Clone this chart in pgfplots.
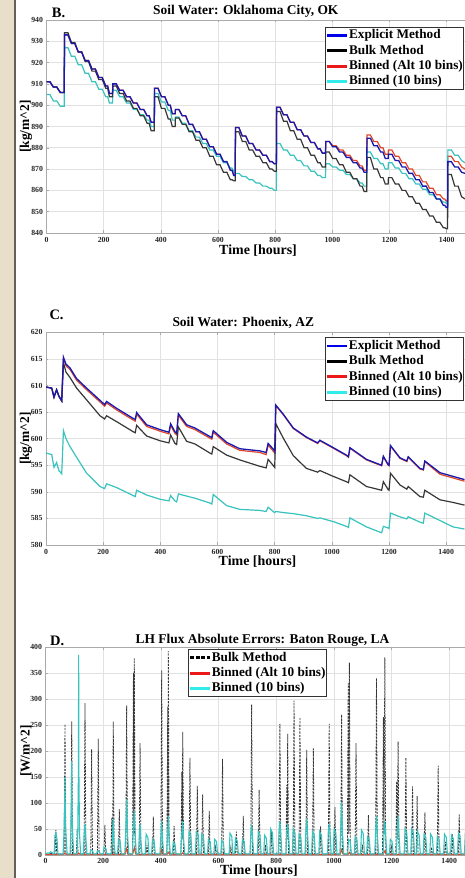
\documentclass[border=0pt]{standalone}
\usepackage{pgfplots}
\pgfplotsset{compat=1.18}
\usepackage{pgfplotstable}
\usepackage{fontspec}
\setmainfont{Liberation Serif}

\definecolor{bgbeige}{RGB}{232,223,203}
\definecolor{stripline}{RGB}{100,95,90}
\definecolor{lnblue}{RGB}{25,25,175}
\definecolor{lnblack}{RGB}{55,55,55}
\definecolor{lnred}{RGB}{225,70,40}
\definecolor{lncyan}{RGB}{55,195,190}
\definecolor{lgblue}{RGB}{0,0,235}
\definecolor{lgred}{RGB}{235,25,25}
\definecolor{lgcyan}{RGB}{50,235,235}
\definecolor{gridgray}{RGB}{225,225,225}
\definecolor{axgray}{RGB}{170,170,170}

% Oklahoma City soil water (daily hold-then-drop steps)
\pgfplotstableread{
t E K R C
0 911 911 911 905
12 911 911 911 905
24 908.5 908.5 908.5 902
36 908.5 908.5 908.5 902
48 906 906 906 899.5
62 906 906 906 899.5
63 933 934 933 927
75 933 934 933 927
87 929 929.5 929 923
99 929 929.5 929 923
111 925 925 925 919
123 925 925 925 919
135 921 920.5 921 915
147 921 920.5 921 915
159 917 916 917 911
171 917 916 917 911
183 913 912 913 907.5
195 913 912 913 907.5
207 909 908 909 904
214 909 908 909 904
220 905.5 904 905.5 901
231 905.5 904 905.5 901
232 910 909 910 907
244 910 909 910 907
256 907 905.5 907 904
268 907 905.5 907 904
280 904 902 904 901
292 904 902 904 901
304 901 898.5 901 898
316 901 898.5 901 898
328 898 895 898 895.5
340 898 895 898 895.5
352 895 891.5 895 893
359 895 891.5 895 893
366 892 888 892 890
377 892 888 892 890
378 908 904 908 905.5
390 908 904 908 905.5
402 904 898.5 904 901.5
414 904 898.5 904 901.5
426 900 893.5 900 897.5
433 900 893.5 900 897.5
440 896 890 896 893
450 896 890 896 893
451 898 894 898 894.5
463 898 894 898 894.5
475 895 891 895 891.5
487 895 891 895 891.5
499 891 887.5 891 888
511 891 887.5 891 888
523 887.5 883.5 887.5 885
535 887.5 883.5 887.5 885
547 884 880 884 882
559 884 880 884 882
571 880.5 876 880.5 879
583 880.5 876 880.5 879
595 877 872 877 876
607 877 872 877 876
619 873.5 868.5 873.5 873
631 873.5 868.5 873.5 873
643 869.5 865 869.5 870.5
649 869.5 865 869.5 870.5
655 867 864.5 867 869
660 867 864.5 867 869
661 889.5 887.5 889.5 868
673 889.5 887.5 889.5 868
685 885.5 883 885.5 866.5
697 885.5 883 885.5 866.5
709 882 879 882 865
721 882 879 882 865
733 879 876 879 863.5
745 879 876 879 863.5
757 876.5 873 876.5 862
769 876.5 873 876.5 862
781 873.5 870 873.5 861
789 873.5 870 873.5 861
797 872.5 869 872.5 860
804 872.5 869 872.5 860
805 899 897 899 882
817 899 897 899 882
829 895.5 892.5 895.5 879
841 895.5 892.5 895.5 879
853 892 888 892 876.5
865 892 888 892 876.5
877 888.5 884 888.5 874
889 888.5 884 888.5 874
901 885.5 880 885.5 871.5
913 885.5 880 885.5 871.5
925 882.5 876.5 882.5 869
937 882.5 876.5 882.5 869
949 879.5 873 879.5 867
957 879.5 873 879.5 867
965 877.5 871 877.5 866
976 877.5 871 877.5 866
977 883 878 883 872.5
989 883 878 883 872.5
1001 880.5 875 881 871
1013 880.5 875 881 871
1025 878 872 879 869.5
1037 878 872 879 869.5
1049 875.5 868.5 876.5 867.5
1061 875.5 868.5 876.5 867.5
1073 873 865.5 874 865.5
1085 873 865.5 874 865.5
1097 870.5 862 871.5 863.5
1104 870.5 862 871.5 863.5
1111 868.5 859.5 869.5 862
1120 868.5 859.5 869.5 862
1121 884.5 875.5 886 878
1133 884.5 875.5 886 878
1145 881 870 883 875
1157 881 870 883 875
1169 878 866 880 872.5
1177 878 866 880 872.5
1185 875 863 877 870
1195 875 863 877 870
1196 877 866 879 873
1208 877 866 879 873
1220 874 863 876 870.5
1232 874 863 876 870.5
1244 871 860 873 868
1256 871 860 873 868
1268 868 857 870 865.5
1280 868 857 870 865.5
1292 865 854 867 863
1304 865 854 867 863
1316 862 851 864 860.5
1328 862 851 864 860.5
1340 859 848 861 858
1352 859 848 861 858
1364 856 845 858 856
1376 856 845 858 856
1388 853 842.5 856 854.5
1393 853 842.5 856 854.5
1398 852 842 855 854
1403 852 842 855 854
1404 873.5 867.5 876 879
1416 873.5 867.5 876 879
1428 871 862 873.5 876.5
1440 871 862 873.5 876.5
1452 868.5 857 871 874
1464 868 856 870 873
}\tabB

% Phoenix soil water
\pgfplotstableread{
t E K R C
0 609.7 609.7 609.7 597.3
20 609.5 609.5 609.5 597.0
28 607.8 607.8 607.8 594.6
37 609.2 609.2 609.2 595.5
45 608.0 608.0 608.0 594.0
55 607.1 607.1 607.1 593.4
61 615.3 614.3 615.1 601.5
70 614.0 612.5 613.7 600.0
84 613.3 611.5 613.0 598.5
107 611.3 609.5 611.0 596.5
142 609.5 607.3 609.2 593.5
189 607.2 604.3 606.9 591.0
205 606.4 603.7 606.1 590.6
212 607.0 604.3 606.7 591.5
247 605.7 603.2 605.4 590.8
305 603.8 601.3 603.5 589.3
312 603.6 601.1 603.3 589.1
317 604.9 602.5 604.6 590.3
352 602.6 600.5 602.3 589.4
399 601.7 599.6 601.4 588.6
430 601.2 599.2 600.9 588.3
436 602.8 600.7 602.5 589.3
451 601.3 599.1 601.0 588.3
457 601.0 598.9 600.7 588.1
463 604.7 602.2 604.4 589.6
492 602.6 599.5 602.3 589.2
521 602.0 599.0 601.7 588.8
573 600.4 597.3 600.1 587.9
580 600.2 597.1 599.9 587.7
585 601.5 598.5 601.2 589.5
632 599.3 596.9 599.0 587.4
678 598.1 596.0 597.8 586.7
748 597.7 594.8 597.4 586.5
770 597.4 594.5 597.0 586.3
777 599.1 596.1 598.8 587.1
797 597.9 594.8 597.5 586.2
800 597.6 594.6 597.3 586.1
804 606.3 602.8 606.2 586.3
830 604.6 600.1 604.5 586.1
865 602.0 596.8 601.9 585.9
911 600.3 594.4 600.2 585.5
950 599.2 593.7 599.1 585.0
958 599.7 594.0 599.6 585.1
1005 598.3 592.9 598.2 584.4
1051 596.9 591.9 596.8 583.5
1058 596.6 591.7 596.5 583.3
1063 598.3 593.2 598.2 585.1
1121 596.1 591.0 596.0 583.4
1174 595.0 590.3 594.9 582.3
1180 596.7 591.9 596.6 583.5
1197 595.1 590.4 595.0 583.2
1200 595.0 590.3 594.9 583.1
1205 598.7 593.5 598.6 586.0
1238 596.4 591.3 596.3 585.3
1262 595.8 590.5 595.7 584.9
1267 596.6 591.0 596.5 585.3
1308 594.4 589.1 594.3 584.3
1320 594.2 589.0 594.1 584.1
1325 595.8 590.3 595.7 586.0
1378 593.6 588.5 593.3 584.6
1424 592.9 588.0 592.6 583.4
1464 592.3 587.5 592.0 583.0
}\tabC

\pgfplotsset{
  panel/.style={
    scale only axis, xmin=0, xmax=1480, xtick={0,200,...,1400},
    grid=major, major grid style={gridgray, line width=0.6bp},
    axis line style={axgray, line width=0.6bp},
    tick style={axgray, line width=0.5bp}, major tick length=2.5bp,
    tick label style={font=\fontsize{7.8}{8}\selectfont\bfseries, text=black!85},
    /pgf/number format/assume math mode=true,
    /pgf/number format/1000 sep={},
    xticklabel style={yshift=-0.5bp},
    xlabel={Time [hours]},
    xlabel style={font=\fontsize{14}{15}\selectfont\bfseries, anchor=center},
    ylabel style={font=\fontsize{13.5}{14}\selectfont\bfseries, anchor=center},
    legend cell align=left,
    legend image code/.code={\draw[##1] (0bp,0bp) -- (20bp,0bp);},
    legend style={draw=black!80, line width=0.8bp, fill=white, anchor=north west,
      font=\fontsize{13.3}{14}\selectfont\bfseries, inner xsep=0.5bp, inner ysep=1bp, row sep=0.8bp,
      nodes={inner sep=0.4bp, text height=10.3bp, text depth=3.5bp}},
  }
}

\begin{document}
\begin{tikzpicture}
\useasboundingbox (0bp,0bp) rectangle (465bp,878bp);
\fill[white] (0bp,0bp) rectangle (465bp,878bp);
\fill[bgbeige] (0bp,0bp) rectangle (14bp,878bp);
\fill[stripline] (14bp,0bp) rectangle (16bp,878bp);
\begin{scope}
\clip (0bp,0bp) rectangle (465bp,878bp);

% ---------------- B ----------------
\begin{axis}[panel, at={(46.5bp,645bp)}, anchor=south west,
  width=423.1bp, height=213bp, ymin=840, ymax=940, ytick distance=10,
  ylabel={[kg/m\textasciicircum 2]},
  xlabel style={at={(axis description cs:0.5,-0.0825)}},
  ylabel style={at={(axis description cs:-0.0485,0.5)}},
  legend style={at={(axis description cs:0.6582,0.9685)}}]
\addplot[lnred, line width=1.2bp, forget plot] table[x=t,y=R] {\tabB};
\addplot[lncyan, line width=1.2bp, forget plot] table[x=t,y=C] {\tabB};
\addplot[lnblack, line width=1.2bp, forget plot] table[x=t,y=K] {\tabB};
\addplot[lnblue, line width=1.3bp, forget plot] table[x=t,y=E] {\tabB};
\addlegendimage{lgblue, line width=2.8bp}\addlegendentry{Explicit Method}
\addlegendimage{black, line width=2.8bp}\addlegendentry{Bulk Method}
\addlegendimage{lgred, line width=2.8bp}\addlegendentry{Binned (Alt 10 bins)}
\addlegendimage{lgcyan, line width=2.8bp}\addlegendentry{Binned (10 bins)}
\end{axis}

% ---------------- C ----------------
\begin{axis}[panel, at={(46bp,333bp)}, anchor=south west,
  width=423.1bp, height=212.7bp, ymin=580, ymax=620, ytick distance=5,
  ylabel={[kg/m\textasciicircum 2]},
  xlabel style={at={(axis description cs:0.5,-0.08)}},
  ylabel style={at={(axis description cs:-0.0473,0.5)}},
  legend style={at={(axis description cs:0.6590,0.9765)}}]
\addplot[lnred, line width=1.2bp, forget plot] table[x=t,y=R] {\tabC};
\addplot[lncyan, line width=1.2bp, forget plot] table[x=t,y=C] {\tabC};
\addplot[lnblack, line width=1.2bp, forget plot] table[x=t,y=K] {\tabC};
\addplot[lnblue, line width=1.3bp, forget plot] table[x=t,y=E] {\tabC};
\addlegendimage{lgblue, line width=2.8bp}\addlegendentry{Explicit Method}
\addlegendimage{black, line width=2.8bp}\addlegendentry{Bulk Method}
\addlegendimage{lgred, line width=2.8bp}\addlegendentry{Binned (Alt 10 bins)}
\addlegendimage{lgcyan, line width=2.8bp}\addlegendentry{Binned (10 bins)}
\end{axis}

% ---------------- D ----------------
\begin{axis}[panel, at={(45.5bp,23bp)}, anchor=south west,
  width=426.7bp, height=208bp, ymin=0, ymax=400, ytick distance=50,
  ylabel={[W/m\textasciicircum 2]},
  xticklabel style={yshift=0.8bp},
  xlabel style={at={(axis description cs:0.5,-0.0755)}},
  ylabel style={at={(axis description cs:-0.046,0.5)}},
  legend style={at={(axis description cs:0.3333,0.990)}}]
\addplot[lnblack, line width=0.8bp, dash pattern=on 2.2bp off 1.2bp, forget plot] coordinates {
(0,2)(16,2)(19,5)(22,2)(33,2)(36,48)(39,2)(64.6,2)(67.6,252)(70.6,2)(88,2)(91,257)(94,2)
(107,2)(110,50)(113,2)(134,2)(137,292)(140,2)(157,2)(160,203)(163,2)(180,2)(183,224)(186,2)
(203,2)(206,58)(209,2)(227,2)(230,72)(232,2)(233,2)(235,257)(238,2)(253,2)(256,88)(259,2)
(278.5,2)(281.5,288)(284.5,2)(302,2)(305,350)(306.5,40)(308,378)(311,2)(325,2)(328,215)(331,2)
(349,2)(352,20)(355,2)(371,2)(374,74)(377,2)(400,2)(403,355)(406,2)
(421,2)(424,285)(425,40)(426,392)(429,2)(443,2)(446,56)(449,2)
(470,2)(473,160)(474.5,30)(476,237)(479,2)(498,2)(501,187)(504,2)(523.5,2)(526.5,133)(529.5,2)
(542,2)(545,116)(548,2)(565,2)(568,85)(571,2)(587,2)(590,15)(593,2)(611,2)(614,185)(617,2)
(640,2)(643,15)(646,2)(659,2)(662,45)(665,2)(683,2)(686,75)(689,2)(712,2)(715,289)(718,2)
(738,2)(741,125)(744,2)(760,2)(763,20)(766,2)(781,2)(784,48)(787,2)(810,2)(813,252)(816,2)
(834,2)(837,135)(838.5,30)(840,233)(843,2)(859,2)(862,297)(865,2)(879.5,2)(882.5,265)(885.5,2)
(903,2)(906,202)(909,2)(926,2)(929,205)(932,2)(951,2)(954,55)(957,2)(981,2)(984,252)(987,2)
(1001,2)(1004,92)(1007,2)(1024,2)(1027,270)(1030,2)(1047,2)(1050,330)(1052,40)(1054,370)(1057,2)
(1074,2)(1077,215)(1080,2)(1096,2)(1099,20)(1102,2)(1117,2)(1120,77)(1123,2)(1145,2)(1148,340)(1151,2)
(1169,2)(1172,265)(1174,40)(1177,380)(1180,2)(1196,2)(1199,20)(1202,2)
(1215,2)(1218,142)(1220,30)(1223,218)(1226,2)(1247,2)(1250,187)(1253,2)(1270,2)(1273,132)(1276,2)
(1286,2)(1289,113)(1292,2)(1313,2)(1316,82)(1319,2)(1336,2)(1339,15)(1342,2)(1359,2)(1362,172)(1365,2)
(1384,2)(1387,25)(1390,2)(1408,2)(1411,40)(1414,2)(1432,2)(1435,78)(1438,2)(1456,2)(1459,15)(1462,2)(1464,2)
};
\addplot[lnred, line width=1.1bp, forget plot] coordinates {
(0,1)(60,1)(67,3)(74,1)(110,1)(115,4)(120,1)(275,1)(281,12)(287,1)(302,1)(308,14)(314,1)
(398,1)(403,10)(408,1)(421,1)(426,5)(431,1)(470,1)(476,4)(482,1)(1021,1)(1027,10)(1033,1)
(1049,1)(1054,5)(1059,1)(1171,1)(1177,8)(1183,1)(1464,1)
};
\addplot[lncyan, line width=1.1bp, forget plot] coordinates {
(0,3)(10,4)(14,3)(17,6)(23,5)(26,2)
(30,2)(33,38)(36,42)(40,30)(43,2)
(61,2)(64,40)(66.5,100)(67.6,150)(69,60)(72,30)(75,2)
(85,2)(88,45)(90,120)(91,180)(92,80)(95,30)(98,2)
(109,2)(112,50)(114,150)(115,385)(116,150)(118,40)(122,2)
(131,2)(134,40)(137,60)(140,30)(144,2)
(154,2)(157,10)(163,8)(167,2)
(177,2)(180,8)(186,7)(190,2)
(200,2)(203,15)(209,13)(213,2)
(229,2)(232,25)(235,70)(238,20)(242,2)
(250,2)(253,30)(259,25)(263,2)
(275,2)(278,40)(281.5,108)(285,35)(289,2)
(301,2)(304,40)(308,85)(312,30)(315,2)
(322,2)(325,30)(328,60)(331,25)(335,2)
(346,2)(349,40)(355,34)(359,2)
(368,2)(371,30)(377,26)(381,2)
(397,2)(400,35)(403,65)(406,30)(410,2)
(420,2)(423,35)(426,75)(429,30)(433,2)
(440,2)(443,25)(449,21)(453,2)
(469,2)(472,35)(476,65)(479,30)(483,2)
(495,2)(498,45)(504,38)(508,2)
(520,2)(523,45)(530,38)(533,2)
(539,2)(542,40)(548,34)(552,2)
(562,2)(565,30)(571,26)(575,2)
(584,2)(587,30)(593,26)(597,2)
(608,2)(611,28)(617,24)(621,2)
(637,2)(640,42)(646,36)(650,2)
(656,2)(659,32)(665,27)(669,2)
(680,2)(683,30)(689,26)(693,2)
(709,2)(712,40)(715,58)(718,35)(722,2)
(735,2)(738,45)(744,38)(748,2)
(757,2)(760,38)(766,32)(770,2)
(778,2)(781,50)(787,43)(791,2)
(807,2)(810,45)(813,65)(816,40)(820,2)
(834,2)(837,45)(840,60)(843,40)(847,2)
(856,2)(859,50)(865,43)(869,2)
(876.5,2)(879.5,40)(885.5,34)(889.5,2)
(900,2)(903,45)(906,70)(909,40)(913,2)
(923,2)(926,45)(932,38)(936,2)
(948,2)(951,45)(957,38)(961,2)
(978,2)(981,45)(984,60)(987,40)(991,2)
(998,2)(1001,50)(1007,43)(1011,2)
(1021,2)(1024,50)(1027,102)(1030,45)(1034,2)
(1048,2)(1051,30)(1057,26)(1061,2)
(1071,2)(1074,35)(1080,30)(1084,2)
(1093,2)(1096,48)(1102,41)(1106,2)
(1114,2)(1117,35)(1123,30)(1127,2)
(1142,2)(1145,45)(1148,75)(1151,40)(1155,2)
(1171,2)(1174,40)(1177,65)(1180,35)(1184,2)
(1193,2)(1196,30)(1202,26)(1206,2)
(1217,2)(1220,45)(1223,75)(1226,40)(1230,2)
(1244,2)(1247,50)(1253,43)(1257,2)
(1267,2)(1270,50)(1276,43)(1280,2)
(1287,2)(1290,45)(1296,38)(1300,2)
(1310,2)(1313,40)(1319,34)(1323,2)
(1333,2)(1336,40)(1342,34)(1346,2)
(1356,2)(1359,35)(1365,30)(1369,2)
(1381,2)(1384,40)(1390,34)(1394,2)
(1405,2)(1408,38)(1414,32)(1418,2)
(1429,2)(1432,42)(1438,36)(1442,2)
(1453,2)(1456,40)(1462,34)(1464,20)
};
\addlegendimage{black, line width=2.8bp, dash pattern=on 4bp off 1.6bp}\addlegendentry{Bulk Method}
\addlegendimage{lgred, line width=2.8bp}\addlegendentry{Binned (Alt 10 bins)}
\addlegendimage{lgcyan, line width=2.8bp}\addlegendentry{Binned (10 bins)}
\end{axis}
\end{scope}

% titles and panel letters
\node[font=\fontsize{13.5}{14}\selectfont\bfseries] at (245.8bp,866.3bp) {Soil Water: Oklahoma City, OK};
\node[font=\fontsize{14.5}{15}\selectfont\bfseries, anchor=west, inner sep=0pt] at (51.7bp,864.7bp) {B.};
\node[font=\fontsize{13.5}{14}\selectfont\bfseries] at (243.3bp,554.7bp) {Soil Water: Phoenix, AZ};
\node[font=\fontsize{14.5}{15}\selectfont\bfseries, anchor=west, inner sep=0pt] at (49.3bp,563bp) {C.};
\node[font=\fontsize{13.5}{14}\selectfont\bfseries] at (262.5bp,237.3bp) {LH Flux Absolute Errors: Baton Rouge, LA};
\node[font=\fontsize{14.5}{15}\selectfont\bfseries, anchor=west, inner sep=0pt] at (50bp,237bp) {D.};
\end{tikzpicture}
\end{document}
